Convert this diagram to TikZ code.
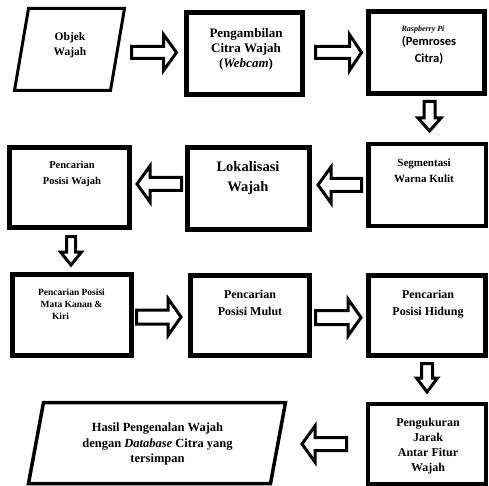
\documentclass[tikz,border=0pt]{standalone}
\usepackage{fontspec}
\setmainfont{Liberation Serif}
\newfontfamily\carlito{Carlito}
\usetikzlibrary{calc}
\tikzset{
  box/.style={draw, rectangle, inner sep=0pt, line width=5pt},
  txt/.style={align=center, inner sep=0pt, anchor=north},
  arrowline/.style={draw, line width=3pt, line join=miter},
  paral/.style={draw, line width=3pt, line join=miter},
}
\newcommand\blockarr[5]{%
  \draw[arrowline] ($(#1)!#3!90:(#2)$)
   -- ($($(#2)!#5!(#1)$)!#3!90:(#2)$)
   -- ($($(#2)!#5!(#1)$)!#4!90:(#2)$)
   -- (#2)
   -- ($($(#2)!#5!(#1)$)!#4!-90:(#2)$)
   -- ($($(#2)!#5!(#1)$)!#3!-90:(#2)$)
   -- ($(#1)!#3!-90:(#2)$) -- cycle;}
\begin{document}
\begin{tikzpicture}[x=1pt,y=-1pt]
\useasboundingbox (0,0) rectangle (489,486);
% parallelogram input
\draw[paral] (28.5,8.5) -- (124.5,8.5) -- (110.5,90.5) -- (14.5,90.5) -- cycle;
\node[txt, font=\bfseries\fontsize{11.5}{15}\selectfont] (t1) at (70,32) {Objek\\Wajah};
% boxes
\node[box, minimum width=116pt, minimum height=82pt] (b2) at (244.5,53.5) {};
\node[txt, font=\bfseries\fontsize{13}{15}\selectfont] (t2) at (246,28) {Pengambilan\\Citra Wajah\\(\textit{Webcam})};
\node[box, minimum width=116pt, minimum height=82pt] (b3) at (426.5,52.5) {};
\node[anchor=base, inner sep=0pt, font=\bfseries\itshape\fontsize{8}{10}\selectfont] (t3a) at (423,32) {Raspberry Pi};
\node[txt, font=\carlito\bfseries\fontsize{12.5}{17}\selectfont] (t3b) at (429,36) {(Pemroses\\Citra)};
\node[box, line width=4.5pt, minimum width=117.5pt, minimum height=81.5pt] (b4) at (427,185) {};
\node[txt, font=\bfseries\fontsize{11}{16}\selectfont] (t4) at (424,159) {Segmentasi\\Warna Kulit};
\node[box, minimum width=122pt, minimum height=82pt] (b5) at (248.5,188.5) {};
\node[txt, font=\bfseries\fontsize{14.5}{20}\selectfont] (t5) at (248,161) {Lokalisasi\\Wajah};
\node[box, minimum width=120pt, minimum height=80pt] (b6) at (69.5,187.5) {};
\node[txt, font=\bfseries\fontsize{10.5}{16}\selectfont] (t6) at (72,161) {Pencarian\\Posisi Wajah};
\node[box, minimum width=119pt, minimum height=81pt] (b7) at (72,315) {};
\node[txt, font=\bfseries\fontsize{9.5}{12}\selectfont] (t7) at (71.5,289) {Pencarian Posisi\\Mata Kanan \&\\Kiri\hspace*{22pt}};
\node[box, minimum width=119pt, minimum height=80pt] (b8) at (250,315.5) {};
\node[txt, font=\bfseries\fontsize{12}{17}\selectfont] (t8) at (250,290) {Pencarian\\Posisi Mulut};
\node[box, minimum width=117pt, minimum height=80pt] (b9) at (427,315.5) {};
\node[txt, font=\bfseries\fontsize{12}{17}\selectfont] (t9) at (428,290) {Pencarian\\Posisi Hidung};
\node[box, line width=4pt, minimum width=118pt, minimum height=80pt] (b10) at (427,444) {};
\node[txt, font=\bfseries\fontsize{12}{15}\selectfont] (t10) at (428,418) {Pengukuran\\Jarak\\Antar Fitur\\Wajah};
% output parallelogram
\draw[paral, line width=3.5pt] (43.5,402.5) -- (285.5,402.5) -- (270.5,483.5) -- (28.5,483.5) -- cycle;
\node[txt, font=\bfseries\fontsize{12.5}{15.5}\selectfont] (t11) at (157.5,423) {Hasil Pengenalan Wajah\\dengan \textit{Database} Citra yang\\tersimpan};
% arrow end points
\coordinate (a1s) at (131.5,52.5); \coordinate (a1e) at (176.5,52.5);
\coordinate (a2s) at (315.5,52.5); \coordinate (a2e) at (361.5,52.5);
\coordinate (a3s) at (429.5,101.5); \coordinate (a3e) at (429.5,131);
\coordinate (a4s) at (361.5,185); \coordinate (a4e) at (318,185);
\coordinate (a5s) at (181.5,184); \coordinate (a5e) at (137,184);
\coordinate (a6s) at (71,236.5); \coordinate (a6e) at (71,265);
\coordinate (a7s) at (136.5,317); \coordinate (a7e) at (181,317);
\coordinate (a8s) at (315.5,317.5); \coordinate (a8e) at (361,317.5);
\coordinate (a9s) at (427,363.5); \coordinate (a9e) at (427,392);
\coordinate (a10s) at (346.5,444); \coordinate (a10e) at (302,444);
\blockarr{a1s}{a1e}{6pt}{18pt}{13pt}
\blockarr{a2s}{a2e}{6pt}{18pt}{12pt}
\blockarr{a3s}{a3e}{5.5pt}{11.5pt}{13pt}
\blockarr{a4s}{a4e}{6.5pt}{18pt}{13pt}
\blockarr{a5s}{a5e}{6.5pt}{18pt}{13pt}
\blockarr{a6s}{a6e}{4.5pt}{10.5pt}{13pt}
\blockarr{a7s}{a7e}{7pt}{18.5pt}{13pt}
\blockarr{a8s}{a8e}{7pt}{18.5pt}{13pt}
\blockarr{a9s}{a9e}{5.5pt}{10.5pt}{14pt}
\blockarr{a10s}{a10e}{6.5pt}{18pt}{13pt}
\end{tikzpicture}
\end{document}
